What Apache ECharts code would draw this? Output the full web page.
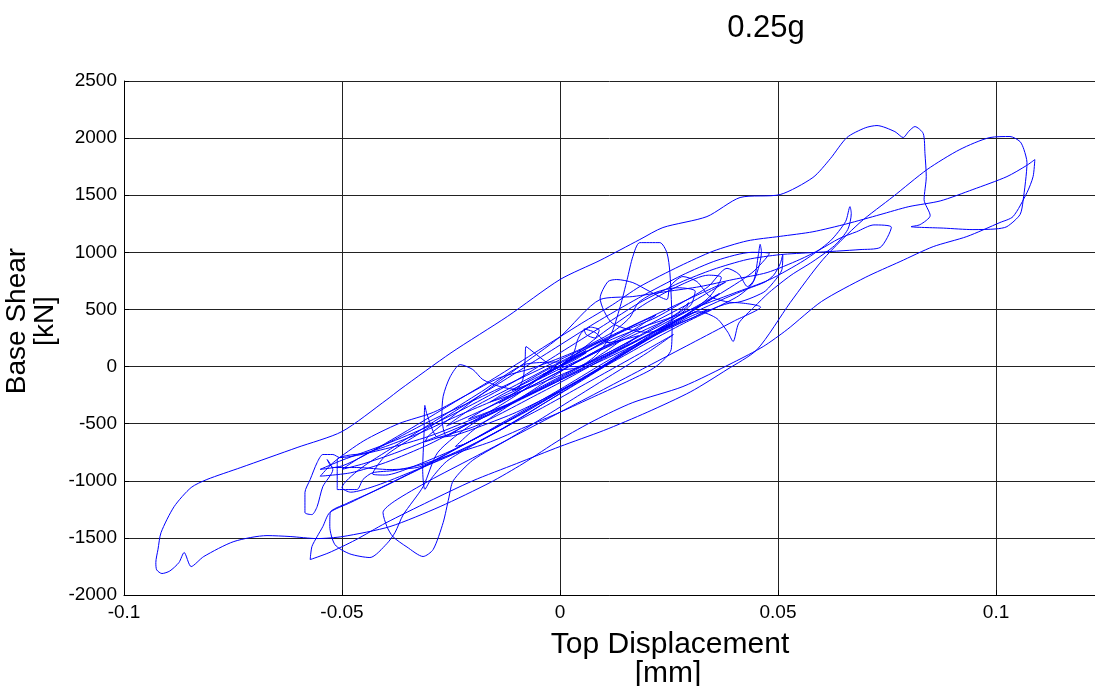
<!DOCTYPE html>
<html>
<head>
<meta charset="utf-8">
<script src="https://cdn.jsdelivr.net/npm/echarts@6/dist/echarts.min.js"></script>
<style>
html,body{margin:0;padding:0;background:#fff;}
#chart{width:1095px;height:686px;}
</style>
</head>
<body>
<div id="chart"></div>
<script>
// ---- tick settings ----
const xTicks = { min: -0.1, max: 0.1227, interval: 0.05 };
const yTicks = { min: -2000, max: 2500, interval: 500 };

// ---- hysteresis path: [top displacement (mm), base shear (kN)] ----
const startCycles = [[0,0],[0.003,50],[0.006,120],[0.004,100],[0.0,10],[-0.004,-70],[-0.002,-40],[0.003,60],[0.008,170],[0.011,240],[0.008,200],[0.002,70],[-0.004,-50],[-0.009,-160],[-0.011,-210],[-0.007,-150],[-0.001,-20],[0.003,110],[0.004,230],[0.005,300],[0.007,345],[0.009,320],[0.008,250],[0.006,280],[0.0055,330],[0.008,300],[0.011,210],[0.015,240],[0.018,270],[0.015,190],[0.009,70],[0.001,-60],[-0.006,-170],[-0.012,-260],[-0.016,-310],[-0.013,-240],[-0.005,-90],[0.004,90],[0.012,240],[0.020,360],[0.026,440],[0.029,520],[0.0295,560],[0.027,470],[0.020,310],[0.012,140],[0.004,-10],[-0.004,-170],[-0.012,-330],[-0.018,-420],[-0.021,-460],[-0.018,-390],[-0.010,-220],[-0.002,-40]];

const moreCycles1 = [[0.000,0],[0.010,300],[0.020,560],[0.028,720],[0.034,800],[0.037,780],[0.034,600],[0.026,380],[0.016,150],[0.006,-80],[-0.004,-300],[-0.014,-520],[-0.024,-720],[-0.034,-880],[-0.040,-950],[-0.043,-940],[-0.040,-780],[-0.032,-580],[-0.022,-340],[-0.012,-100],[-0.002,140],[0.008,380],[0.018,600],[0.028,800],[0.036,930],[0.044,1000],[0.048,990],[0.044,820],[0.036,620],[0.026,380],[0.016,140],[0.006,-100],[-0.004,-330],[-0.014,-560],[-0.024,-760],[-0.034,-920],[-0.042,-1040],[-0.048,-1100],[-0.050,-1060],[-0.046,-900],[-0.038,-700],[-0.028,-460],[-0.018,-220],[-0.008,20],[0.000,40]];

const moreCycles2 = [[-0.010,-250],[-0.020,-480],[-0.030,-680],[-0.040,-840],[-0.048,-930],[-0.055,-960],[-0.052,-840],[-0.045,-650],[-0.037,-500],[-0.029,-400],[-0.021,-240],[-0.014,-100],[-0.006,-10],[0.004,140],[0.012,300],[0.016,430],[0.018,560],[0.022,650],[0.027,690],[0.031,660],[0.030,540],[0.024,360],[0.016,160],[0.008,-40],[0.000,-220],[-0.008,-400],[-0.016,-560],[-0.022,-680],[-0.024,-700],[-0.020,-560],[-0.014,-400],[-0.006,-200],[0.002,0],[0.010,170],[0.014,230],[0.010,120],[0.004,0],[0.000,0]];

const midCycles1 = [[0.006,130],[0.014,300],[0.022,430],[0.028,560],[0.034,700],[0.0383,860],[0.041,810],[0.043,700],[0.0445,760],[0.0455,980],[0.0459,1070],[0.0462,1000],[0.0455,860],[0.044,720],[0.041,620],[0.036,520],[0.029,390],[0.022,250],[0.014,80],[0.006,-90],[-0.002,-250],[-0.010,-400],[-0.018,-520],[-0.024,-600],[-0.028,-620],[-0.0305,-420],[-0.031,-340],[-0.0312,-600],[-0.0315,-900],[-0.031,-1075],[-0.0295,-980],[-0.026,-830],[-0.020,-690],[-0.012,-520],[-0.004,-330],[0.004,-140],[0.012,50],[0.020,240],[0.026,370],[0.031,480]];

const midCycles2 = [[0.025,370],[0.016,200],[0.008,40],[0.000,-120],[-0.008,-270],[-0.016,-420],[-0.022,-520],[-0.026,-610],[-0.0271,-440],[-0.0268,-260],[-0.0252,-90],[-0.0229,17],[-0.0200,-26],[-0.0177,-114],[-0.0138,-175],[-0.0100,-200],[-0.0085,-110],[-0.0080,60],[-0.0078,175],[-0.0060,123],[-0.0030,35],[0.000,-26],[0.004,-10],[0.008,90],[0.0115,263]];

const tallLoop = [[0.0138,525],[0.0154,762],[0.0167,963],[0.0183,1085],[0.0229,1085],[0.0245,998],[0.0252,823],[0.0257,350],[0.0255,150],[0.022,0],[0.016,-120],[0.008,-260],[0.000,-400],[-0.008,-530],[-0.016,-660],[-0.024,-760],[-0.032,-860],[-0.038,-910],[-0.043,-930],[-0.0452,-989],[-0.0466,-1077],[-0.0511,-1077],[-0.0511,-814],[-0.049,-780],[-0.045,-760],[-0.040,-700],[-0.032,-580],[-0.024,-440],[-0.016,-310],[-0.008,-170],[0.000,-20],[0.008,120],[0.016,260],[0.024,400],[0.030,500],[0.0397,640]];

const spikeRight = [[0.048,760],[0.056,930],[0.062,1100],[0.0655,1270],[0.0665,1400],[0.0668,1340],[0.066,1200],[0.063,1060],[0.058,920],[0.053,800],[0.048,650],[0.0445,520],[0.041,380],[0.0397,219],[0.0385,300],[0.036,420],[0.032,480],[0.025,380],[0.018,230],[0.010,70],[0.002,-100],[-0.006,-260],[-0.014,-420],[-0.020,-530],[-0.026,-600],[-0.031,-660]];

const extraCycle = [[-0.030,-600],[-0.020,-300],[-0.010,-20],[0.000,260],[0.0092,587],[0.0167,613],[0.0245,657],[0.0321,700],[0.0397,762],[0.0475,823],[0.0550,937],[0.0596,1024],[0.0640,1120],[0.0680,1180],[0.0720,1240],[0.0760,1220],[0.0734,1042],[0.0688,1024],[0.0580,998],[0.0505,980],[0.0429,937],[0.0351,850],[0.0275,735],[0.0183,560],[0.0100,360],[0.0000,120],[-0.0100,-120],[-0.0200,-330],[-0.0300,-520],[-0.0400,-680],[-0.0500,-820],[-0.0550,-900],[-0.0500,-870],[-0.045,-780],[-0.035,-560],[-0.025,-330],[-0.015,-100],[-0.005,140],[0.005,380],[0.012,540]];

const loop1770 = [[0.0183,700],[0.0275,880],[0.0351,1010],[0.0429,1100],[0.0505,1140],[0.0580,1180],[0.0658,1250],[0.0734,1330],[0.0800,1400],[0.0872,1450],[0.0947,1550],[0.1025,1663],[0.1070,1760],[0.1089,1812],[0.1085,1663],[0.1071,1523],[0.1039,1313],[0.1009,1261],[0.0933,1138],[0.0856,1050],[0.0780,919],[0.0700,780],[0.0600,570],[0.0521,324],[0.0466,175],[0.0397,35],[0.0282,-175],[0.0167,-315],[0.0080,-470],[0.0000,-640]];

const bigLeft = [[-0.0085,-850],[-0.0160,-1015],[-0.0275,-1226],[-0.0390,-1401],[-0.0498,-1488],[-0.0557,-1506],[-0.0619,-1488],[-0.0672,-1480],[-0.0748,-1532],[-0.0817,-1663],[-0.0846,-1751],[-0.0862,-1628],[-0.0874,-1716],[-0.0895,-1790],[-0.0913,-1812],[-0.0925,-1780],[-0.0927,-1716],[-0.0922,-1600],[-0.0915,-1453],[-0.0885,-1226],[-0.0846,-1059],[-0.0810,-989],[-0.0732,-884],[-0.0603,-709],[-0.0500,-569],[-0.0397,-289]];

const topLoop = [[-0.0367,-201],[-0.0250,120],[-0.0120,440],[0.0000,762],[0.0092,930],[0.0183,1112],[0.0236,1217],[0.0337,1313],[0.0413,1480],[0.0505,1506],[0.0580,1655],[0.0620,1820],[0.0658,2005],[0.0700,2090],[0.0727,2110],[0.0768,2057],[0.0787,2005],[0.0800,2060],[0.0814,2101],[0.0833,2040],[0.0837,1865],[0.0840,1663],[0.0835,1462],[0.0849,1322],[0.0826,1243],[0.0805,1225],[0.0880,1212],[0.0947,1199],[0.1000,1205],[0.1025,1225],[0.1055,1330],[0.1062,1450],[0.1071,1786],[0.1064,1900],[0.1055,1970],[0.1032,2014],[0.0986,2005],[0.0917,1900],[0.0842,1725],[0.0764,1488],[0.0688,1261],[0.0603,937],[0.0528,560],[0.0452,149],[0.0383,-26],[0.0300,-220],[0.0200,-400],[0.0100,-560],[0.0000,-700],[-0.0100,-850],[-0.0200,-1000],[-0.0300,-1180],[-0.0400,-1370],[-0.0470,-1520],[-0.0530,-1630],[-0.0573,-1690],[-0.0569,-1576],[-0.0557,-1488],[-0.0544,-1401],[-0.0528,-1278],[-0.0480,-1190],[-0.0400,-1040],[-0.0300,-850],[-0.0200,-640],[-0.0100,-420],[0.0000,-200],[0.0100,30],[0.0200,250],[0.0300,480],[0.0366,640]];

const lowerLoops = [[0.0300,500],[0.0200,300],[0.0100,100],[0.0000,-100],[-0.0100,-300],[-0.0200,-500],[-0.0280,-750],[-0.0314,-1051],[-0.0360,-1300],[-0.0378,-1450],[-0.0397,-1550],[-0.0436,-1672],[-0.0482,-1640],[-0.0516,-1560],[-0.0528,-1400],[-0.0527,-1278],[-0.0490,-1200],[-0.0420,-1080],[-0.0350,-950],[-0.0280,-820],[-0.0200,-680],[-0.0120,-520],[-0.0040,-360],[0.0040,-190],[0.0120,-20],[0.0200,150],[0.0260,280],[0.0200,120],[0.0120,-70],[0.0040,-260],[-0.0040,-450],[-0.0120,-640],[-0.0200,-820],[-0.0245,-1000],[-0.0255,-1150],[-0.0268,-1366],[-0.0291,-1602],[-0.0314,-1663],[-0.0351,-1580],[-0.0383,-1490],[-0.0397,-1401],[-0.0406,-1278],[-0.0380,-1180],[-0.0300,-1000],[-0.0200,-800],[-0.0100,-600],[0.0000,-400],[0.0100,-200],[0.0200,0],[0.0300,200],[0.0400,400],[0.0460,520]];

const leftHooks = [[0.0400,560],[0.0300,420],[0.0200,240],[0.0100,60],[0.0000,-120],[-0.0100,-300],[-0.0200,-460],[-0.0300,-610],[-0.0400,-720],[-0.0505,-797],[-0.0521,-770],[-0.0544,-770],[-0.0557,-840],[-0.0573,-989],[-0.0585,-1103],[-0.0585,-1278],[-0.0569,-1296],[-0.0557,-1226],[-0.0544,-1051],[-0.0521,-902],[-0.0534,-814],[-0.0521,-884],[-0.0466,-884],[-0.0390,-902],[-0.0328,-884],[-0.0298,-840],[-0.0240,-720],[-0.0160,-560],[-0.0080,-390],[0.0000,-220],[0.0080,-40],[0.0160,140],[0.0240,320],[0.0300,440],[0.0340,500]];

const arches = [[0.0300,420],[0.0200,300],[0.0120,380],[0.0092,600],[0.0110,744],[0.0130,762],[0.0167,735],[0.0206,657],[0.0245,587],[0.0252,700],[0.0282,788],[0.0314,744],[0.0344,613],[0.0400,560],[0.0466,648],[0.0489,735],[0.0509,850],[0.0511,985],[0.0505,900],[0.0490,800],[0.0470,740],[0.0430,680],[0.0380,600],[0.0300,460],[0.0200,270],[0.0100,80],[0.0000,-110],[-0.0100,-300],[-0.0200,-480],[-0.0300,-640],[-0.0380,-760],[-0.0450,-850],[-0.0500,-900],[-0.0460,-800],[-0.0380,-640],[-0.0300,-480],[-0.0200,-300],[-0.0100,-120],[0.0000,60],[0.0100,240],[0.0200,420],[0.0300,600],[0.0380,740]];

const decay = [[0.0300,560],[0.0200,360],[0.0100,160],[0.0000,-40],[-0.0100,-240],[-0.0200,-420],[-0.0260,-520],[-0.0200,-360],[-0.0100,-160],[0.0000,40],[0.0100,230],[0.0180,380],[0.0220,450],[0.0160,300],[0.0080,130],[0.0000,-40],[-0.0080,-200],[-0.0140,-320],[-0.0100,-220],[-0.0040,-80],[0.0020,50],[0.0060,140],[0.0030,80],[0.0000,0]];

const pathData = [].concat(startCycles, moreCycles1, moreCycles2, midCycles1, midCycles2, tallLoop, spikeRight, extraCycle,
  loop1770, bigLeft, topLoop, lowerLoops, leftHooks, arches, decay);

const FONT = 'Liberation Sans, Arial, Helvetica, sans-serif';
const chart = echarts.init(document.getElementById('chart'), null, { renderer: 'canvas' });
chart.setOption({
  animation: false,
  backgroundColor: '#ffffff',
  grid: { left: 124, right: 0, top: 81, bottom: 91, containLabel: false },
  xAxis: {
    type: 'value', min: xTicks.min, max: xTicks.max, interval: xTicks.interval,
    axisLine: { show: true, onZero: false, lineStyle: { color: '#000', width: 1 } },
    axisTick: { show: true, inside: true, length: 5, lineStyle: { color: '#000' } },
    axisLabel: { show: true, showMaxLabel: false, margin: 8, color: '#000', fontSize: 19, fontFamily: FONT,
      formatter: v => String(Math.round(v * 1000) / 1000) },
    splitLine: { show: true, lineStyle: { color: '#222', width: 1 } }
  },
  yAxis: {
    type: 'value', min: yTicks.min, max: yTicks.max, interval: yTicks.interval,
    axisLine: { show: true, onZero: false, lineStyle: { color: '#000', width: 1 } },
    axisTick: { show: true, inside: true, length: 5, lineStyle: { color: '#000' } },
    axisLabel: { show: true, margin: 7, color: '#000', fontSize: 19, fontFamily: FONT,
      formatter: v => String(v) },
    splitLine: { show: true, lineStyle: { color: '#222', width: 1 } }
  },
  series: [{
    type: 'line', data: pathData, showSymbol: false, smooth: 0.25,
    lineStyle: { color: '#0000ff', width: 1 }, clip: true
  }],
  graphic: [
    { type: 'text', x: 766, y: 28, style: { text: '0.25g', font: '31px ' + FONT, fill: '#000', textAlign: 'center', textVerticalAlign: 'middle' } },
    { type: 'text', x: 670, y: 645, style: { text: 'Top Displacement', font: '30px ' + FONT, fill: '#000', textAlign: 'center', textVerticalAlign: 'middle' } },
    { type: 'text', x: 668, y: 674, style: { text: '[mm]', font: '30px ' + FONT, fill: '#000', textAlign: 'center', textVerticalAlign: 'middle' } },
    { type: 'text', x: 17, y: 321, rotation: Math.PI / 2, style: { text: 'Base Shear', font: '28px ' + FONT, fill: '#000', textAlign: 'center', textVerticalAlign: 'middle' } },
    { type: 'text', x: 45, y: 321, rotation: Math.PI / 2, style: { text: '[kN]', font: '28px ' + FONT, fill: '#000', textAlign: 'center', textVerticalAlign: 'middle' } }
  ]
});
</script>
</body>
</html>
